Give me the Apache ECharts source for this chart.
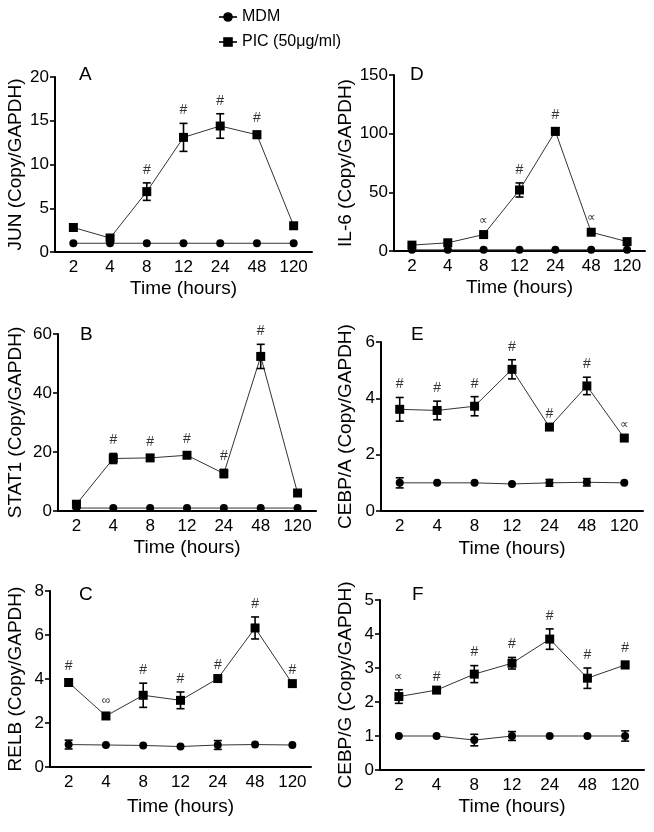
<!DOCTYPE html>
<html><head><meta charset="utf-8">
<script src="https://cdn.jsdelivr.net/npm/echarts@6/dist/echarts.min.js"></script>
<style>html,body{margin:0;padding:0;background:#fff}#c{width:654px;height:832px}</style>
</head><body><div id="c"></div>
<script>
const categories = ['2', '4', '8', '12', '24', '48', '120'];
const seriesNames = ['MDM', 'PIC (50μg/ml)'];

// A: JUN
const junMDM = [1, 1, 1, 1, 1, 1, 1];
const junMDMErr = [0, 0, 0, 0, 0, 0, 0];
const junPIC = [2.8, 1.6, 6.9, 13.1, 14.4, 13.4, 3.0];
const junPICErr = [0, 0.35, 1.0, 1.6, 1.4, 0.4, 0];
const junSig = ['', '', '#', '#', '#', '#', ''];

// D: IL-6
const il6MDM = [1, 1, 1, 1, 1, 1, 1];
const il6MDMErr = [0, 0, 0, 0, 0, 0, 0];
const il6PIC = [5, 7, 14, 52, 102, 16, 8];
const il6PICErr = [1.5, 1.5, 1, 6, 3, 1, 0.5];
const il6Sig = ['', '', '∝', '#', '#', '∝', ''];

// B: STAT1
const stat1MDM = [1, 1, 1, 1, 1, 1, 1];
const stat1MDMErr = [0, 0, 0, 0, 0, 0, 0];
const stat1PIC = [2.3, 17.8, 18.0, 18.9, 12.7, 52.4, 6.1];
const stat1PICErr = [0.8, 1.7, 0.8, 1.0, 1.4, 4.1, 0];
const stat1Sig = ['', '#', '#', '#', '#', '#', ''];

// E: CEBP/A
const cebpaMDM = [1.0, 1.0, 1.0, 0.96, 1.0, 1.02, 1.0];
const cebpaMDMErr = [0.18, 0, 0, 0, 0.12, 0.13, 0];
const cebpaPIC = [3.61, 3.57, 3.72, 5.03, 2.98, 4.44, 2.59];
const cebpaPICErr = [0.42, 0.33, 0.34, 0.34, 0, 0.31, 0];
const cebpaSig = ['#', '#', '#', '#', '#', '#', '∝'];

// C: RELB
const relbMDM = [1.02, 1.0, 0.98, 0.93, 1.0, 1.02, 1.0];
const relbMDMErr = [0.2, 0, 0, 0, 0.2, 0, 0];
const relbPIC = [3.84, 2.32, 3.26, 3.03, 4.02, 6.32, 3.79];
const relbPICErr = [0.15, 0.12, 0.55, 0.38, 0, 0.5, 0];
const relbSig = ['#', '∞', '#', '#', '#', '#', '#'];

// F: CEBP/G
const cebpgMDM = [1, 1, 0.88, 1, 1, 1, 1];
const cebpgMDMErr = [0, 0, 0.17, 0.13, 0, 0, 0.15];
const cebpgPIC = [2.16, 2.35, 2.82, 3.14, 3.85, 2.7, 3.09];
const cebpgPICErr = [0.2, 0, 0.25, 0.17, 0.3, 0.3, 0.1];
const cebpgSig = ['∝', '#', '#', '#', '#', '#', '#'];

const panels = [
  {letter: 'A', yName: 'JUN (Copy/GAPDH)', max: 20, interval: 5, mdm: junMDM, mdmErr: junMDMErr, pic: junPIC, picErr: junPICErr, sig: junSig,
   grid: {left: 55, top: 77, width: 257, height: 175}, nameGap: 30, xNameGap: 27, letterPos: [79, 65]},
  {letter: 'D', yName: 'IL-6 (Copy/GAPDH)', max: 150, interval: 50, mdm: il6MDM, mdmErr: il6MDMErr, pic: il6PIC, picErr: il6PICErr, sig: il6Sig,
   grid: {left: 394, top: 75, width: 251, height: 176}, nameGap: 39, xNameGap: 27, letterPos: [410, 65]},
  {letter: 'B', yName: 'STAT1 (Copy/GAPDH)', max: 60, interval: 20, mdm: stat1MDM, mdmErr: stat1MDMErr, pic: stat1PIC, picErr: stat1PICErr, sig: stat1Sig,
   grid: {left: 58, top: 334, width: 258, height: 177}, nameGap: 33, xNameGap: 27, letterPos: [80, 325]},
  {letter: 'E', yName: 'CEBP/A (Copy/GAPDH)', max: 6, interval: 2, mdm: cebpaMDM, mdmErr: cebpaMDMErr, pic: cebpaPIC, picErr: cebpaPICErr, sig: cebpaSig,
   grid: {left: 381, top: 342, width: 262, height: 169}, nameGap: 26, xNameGap: 28, letterPos: [411, 325]},
  {letter: 'C', yName: 'RELB (Copy/GAPDH)', max: 8, interval: 2, mdm: relbMDM, mdmErr: relbMDMErr, pic: relbPIC, picErr: relbPICErr, sig: relbSig,
   grid: {left: 50, top: 591, width: 261, height: 176}, nameGap: 25, xNameGap: 30, letterPos: [79, 585]},
  {letter: 'F', yName: 'CEBP/G (Copy/GAPDH)', max: 5, interval: 1, mdm: cebpgMDM, mdmErr: cebpgMDMErr, pic: cebpgPIC, picErr: cebpgPICErr, sig: cebpgSig,
   grid: {left: 380, top: 600, width: 264, height: 170}, nameGap: 25, xNameGap: 27, letterPos: [412, 585]}
];

const FONT = '"Liberation Sans", Arial, sans-serif';

function errRender(params, api) {
  const x = api.value(0), lo = api.value(1), hi = api.value(2);
  if (!(hi > lo)) return null;
  const p1 = api.coord([x, hi]);
  const p2 = api.coord([x, lo]);
  const w = 4;
  const st = {stroke: '#000', lineWidth: 1.6};
  return {type: 'group', children: [
    {type: 'line', shape: {x1: p1[0], y1: p1[1], x2: p2[0], y2: p2[1]}, style: st},
    {type: 'line', shape: {x1: p1[0] - w, y1: p1[1], x2: p1[0] + w, y2: p1[1]}, style: st},
    {type: 'line', shape: {x1: p2[0] - w, y1: p2[1], x2: p2[0] + w, y2: p2[1]}, style: st}
  ]};
}

function sigRenderFor(sig) {
  return function (params, api) {
    const txt = sig[params.dataIndex];
    if (!txt) return null;
    const p = api.coord([api.value(0), api.value(1)]);
    return {type: 'text', x: p[0], y: p[1] - 13,
      style: {text: txt, fill: '#333', font: (txt === '#' ? '14px ' : '12px ') + FONT, align: 'center', verticalAlign: 'middle'}};
  };
}

const option = {
  animation: false,
  backgroundColor: '#fff',
  textStyle: {fontFamily: FONT},
  legend: {
    data: seriesNames, orient: 'vertical', left: 213, top: 4,
    itemWidth: 18, itemHeight: 12, itemGap: 9,
    textStyle: {fontSize: 16, color: '#000', fontFamily: FONT}
  },
  title: [], grid: [], xAxis: [], yAxis: [], series: []
};

panels.forEach((p, i) => {
  option.title.push({text: p.letter, left: p.letterPos[0], top: p.letterPos[1], padding: 0,
    textStyle: {fontSize: 19, fontWeight: 'normal', color: '#000', fontFamily: FONT}});
  option.grid.push(Object.assign({containLabel: false}, p.grid));
  option.xAxis.push({
    type: 'category', gridIndex: i, data: categories, boundaryGap: true,
    name: 'Time (hours)', nameLocation: 'middle', nameGap: p.xNameGap, nameMoveOverlap: false,
    nameTextStyle: {fontSize: 19, color: '#000', fontFamily: FONT},
    axisLine: {lineStyle: {color: '#000', width: 2}},
    axisTick: {alignWithLabel: true, length: 5, lineStyle: {color: '#000', width: 1.6}},
    axisLabel: {interval: 0, fontSize: 17, color: '#000', margin: 7, fontFamily: FONT, hideOverlap: false},
    splitLine: {show: false}
  });
  option.yAxis.push({
    type: 'value', gridIndex: i, min: 0, max: p.max, interval: p.interval,
    name: p.yName, nameLocation: 'middle', nameGap: p.nameGap, nameMoveOverlap: false,
    nameTextStyle: {fontSize: 19, color: '#000', fontFamily: FONT},
    axisLine: {show: true, lineStyle: {color: '#000', width: 2}},
    axisTick: {show: true, length: 5, lineStyle: {color: '#000', width: 1.6}},
    axisLabel: {fontSize: 17, color: '#000', margin: 6, fontFamily: FONT},
    splitLine: {show: false}
  });
  const lineStyle = {color: '#333', width: 1};
  option.series.push({
    name: seriesNames[0], type: 'line', xAxisIndex: i, yAxisIndex: i, data: p.mdm,
    symbol: 'circle', symbolSize: 8, itemStyle: {color: '#000'}, lineStyle: lineStyle, z: 3
  });
  option.series.push({
    name: seriesNames[1], type: 'line', xAxisIndex: i, yAxisIndex: i, data: p.pic,
    symbol: 'rect', symbolSize: 9, itemStyle: {color: '#000'}, lineStyle: lineStyle, z: 3
  });
  option.series.push({
    type: 'custom', xAxisIndex: i, yAxisIndex: i, renderItem: errRender, z: 4,
    data: p.mdm.map((v, k) => [k, v - p.mdmErr[k], v + p.mdmErr[k]])
  });
  option.series.push({
    type: 'custom', xAxisIndex: i, yAxisIndex: i, renderItem: errRender, z: 4,
    data: p.pic.map((v, k) => [k, v - p.picErr[k], v + p.picErr[k]])
  });
  option.series.push({
    type: 'custom', xAxisIndex: i, yAxisIndex: i, renderItem: sigRenderFor(p.sig), z: 5,
    data: p.pic.map((v, k) => [k, v + p.picErr[k]])
  });
});

const chart = echarts.init(document.getElementById('c'), null, {renderer: 'canvas'});
chart.setOption(option);
</script>
</body></html>
